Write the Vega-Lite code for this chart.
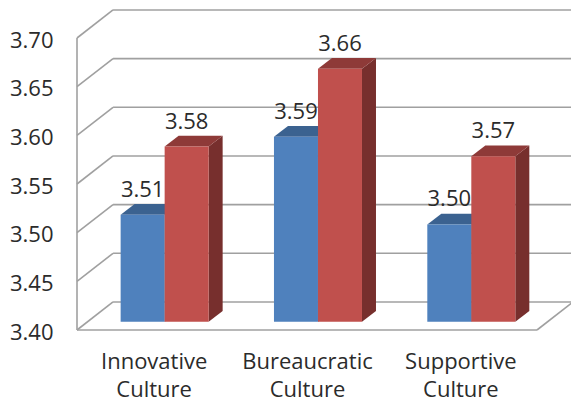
{
  "$schema": "https://vega.github.io/schema/vega-lite/v6.json",
  "width": 571,
  "height": 403,
  "padding": 0,
  "autosize": {"type": "none"},
  "background": "white",
  "config": {"view": {"stroke": null}, "font": "Open Sans"},
  "datasets": {
    "scores": [
      {"culture": "Innovative Culture", "series": "Series 1", "value": 3.51},
      {"culture": "Bureaucratic Culture", "series": "Series 1", "value": 3.59},
      {"culture": "Supportive Culture", "series": "Series 1", "value": 3.50},
      {"culture": "Innovative Culture", "series": "Series 2", "value": 3.58},
      {"culture": "Bureaucratic Culture", "series": "Series 2", "value": 3.66},
      {"culture": "Supportive Culture", "series": "Series 2", "value": 3.57}
    ],
    "ticks": [
      {"tick": 3.40}, {"tick": 3.45}, {"tick": 3.50}, {"tick": 3.55},
      {"tick": 3.60}, {"tick": 3.65}, {"tick": 3.70}
    ]
  },
  "resolve": {"axis": {"x": "independent", "y": "independent"}},
  "layer": [
    {
      "data": {"name": "ticks"},
      "transform": [
        {"calculate": "datum.tick + 0.0288", "as": "backTick"},
        {"calculate": "0", "as": "wallStart"},
        {"calculate": "0.235", "as": "wallX"},
        {"calculate": "3", "as": "floorEnd"},
        {"calculate": "3.235", "as": "wallEnd"}
      ],
      "resolve": {"axis": {"x": "independent", "y": "independent"}},
      "layer": [
        {
          "mark": {"type": "rule", "stroke": "#a0a0a0", "strokeWidth": 1.6, "clip": false},
          "encoding": {
            "x": {"field": "wallStart", "type": "quantitative", "title": null,
              "scale": {"domain": [0, 3], "range": [77, 537]},
              "axis": {
                "values": [0.5, 1.5, 2.5], "domain": false, "ticks": false, "grid": false, "title": null,
                "offset": -52, "labelPadding": 0, "labelFontSize": 22, "labelColor": "#2b2b2b",
                "labelLineHeight": 28, "labelFont": "Open Sans", "labelAngle": 0, "labelOverlap": false,
                "labelExpr": "datum.value == 0.5 ? ['Innovative', 'Culture'] : datum.value == 1.5 ? ['Bureaucratic', 'Culture'] : ['Supportive', 'Culture']"
              }},
            "x2": {"field": "wallX"},
            "y": {"field": "tick", "type": "quantitative", "title": null,
              "scale": {"domain": [3.4, 3.7], "range": [330, 38], "nice": false, "zero": false},
              "axis": {
                "values": [3.40, 3.45, 3.50, 3.55, 3.60, 3.65, 3.70], "format": ".2f",
                "domain": false, "ticks": false, "grid": false, "title": null,
                "offset": -53, "labelPadding": 0, "labelOffset": 2, "labelFontSize": 22, "labelColor": "#2b2b2b", "labelFont": "Open Sans"
              }},
            "y2": {"field": "backTick"}
          }
        },
        {
          "mark": {"type": "rule", "stroke": "#a0a0a0", "strokeWidth": 1.6, "clip": false},
          "encoding": {
            "x": {"field": "wallX", "type": "quantitative", "axis": null},
            "x2": {"field": "wallEnd"},
            "y": {"field": "backTick", "type": "quantitative", "axis": null}
          }
        },
        {
          "mark": {"type": "line", "stroke": "#a0a0a0", "strokeWidth": 1.6, "clip": false},
          "encoding": {
            "x": {"field": "wallStart", "type": "quantitative", "axis": null},
            "y": {"field": "tick", "type": "quantitative", "axis": null}
          }
        },
        {
          "transform": [{"filter": "datum.tick === 3.4"}],
          "mark": {"type": "rule", "stroke": "#a0a0a0", "strokeWidth": 1.6, "clip": false},
          "encoding": {
            "x": {"field": "wallStart", "type": "quantitative", "axis": null},
            "x2": {"field": "floorEnd"},
            "y": {"field": "tick", "type": "quantitative", "axis": null}
          }
        },
        {
          "transform": [{"filter": "datum.tick === 3.4"}],
          "mark": {"type": "rule", "stroke": "#a0a0a0", "strokeWidth": 1.6, "clip": false},
          "encoding": {
            "x": {"field": "floorEnd", "type": "quantitative", "axis": null},
            "x2": {"field": "wallEnd"},
            "y": {"field": "tick", "type": "quantitative", "axis": null},
            "y2": {"field": "backTick"}
          }
        }
      ]
    },
    {
      "data": {"name": "scores"},
      "transform": [
        {"calculate": "indexof(['Innovative Culture', 'Bureaucratic Culture', 'Supportive Culture'], datum.culture) + 0.5716", "as": "mid"},
        {"calculate": "datum.series === 'Series 1' ? datum.mid - 0.287 : datum.mid", "as": "left"},
        {"calculate": "datum.left + 0.287", "as": "right"},
        {"calculate": "datum.left + 0.1435", "as": "centre"},
        {"calculate": "datum.value + 0.0085", "as": "top"},
        {"calculate": "3.4085", "as": "base"},
        {"calculate": "datum.culture + datum.series", "as": "barId"}
      ],
      "layer": [
        {
          "transform": [
            {"calculate": "[0, 1]", "as": "depth"},
            {"flatten": ["depth"]},
            {"calculate": "datum.right + datum.depth * 0.0913", "as": "sideX"},
            {"calculate": "datum.top + datum.depth * 0.011", "as": "sideTop"},
            {"calculate": "datum.base + datum.depth * 0.011", "as": "sideBase"}
          ],
          "mark": {"type": "area", "orient": "vertical", "clip": false},
          "encoding": {
            "x": {"field": "sideX", "type": "quantitative", "axis": null},
            "y": {"field": "sideTop", "type": "quantitative", "axis": null},
            "y2": {"field": "sideBase"},
            "detail": {"field": "barId"},
            "color": {"condition": {"test": "datum.series === 'Series 1'", "value": "#3a5f8c"}, "value": "#772f2d"}
          }
        },
        {
          "transform": [
            {"calculate": "[0, 1]", "as": "depth"},
            {"flatten": ["depth"]},
            {"calculate": "datum.left + datum.depth * 0.0913", "as": "capLeft"},
            {"calculate": "datum.right + datum.depth * 0.0913", "as": "capRight"},
            {"calculate": "datum.top + datum.depth * 0.011", "as": "capY"}
          ],
          "mark": {"type": "area", "orient": "horizontal", "clip": false},
          "encoding": {
            "x": {"field": "capLeft", "type": "quantitative", "axis": null},
            "x2": {"field": "capRight"},
            "y": {"field": "capY", "type": "quantitative", "axis": null},
            "detail": {"field": "barId"},
            "color": {"condition": {"test": "datum.series === 'Series 1'", "value": "#3b6290"}, "value": "#8e3a38"}
          }
        },
        {
          "mark": {"type": "rect", "clip": false},
          "encoding": {
            "x": {"field": "left", "type": "quantitative", "axis": null},
            "x2": {"field": "right"},
            "y": {"field": "top", "type": "quantitative", "axis": null},
            "y2": {"field": "base"},
            "color": {"condition": {"test": "datum.series === 'Series 1'", "value": "#4f81bd"}, "value": "#c0504d"}
          }
        },
        {
          "mark": {"type": "text", "fontSize": 22, "font": "Open Sans", "color": "#2b2b2b", "yOffset": -25, "baseline": "middle", "clip": false},
          "encoding": {
            "x": {"field": "centre", "type": "quantitative", "axis": null},
            "y": {"field": "top", "type": "quantitative", "axis": null},
            "text": {"field": "value", "type": "quantitative", "format": ".2f"}
          }
        }
      ]
    }
  ]
}
